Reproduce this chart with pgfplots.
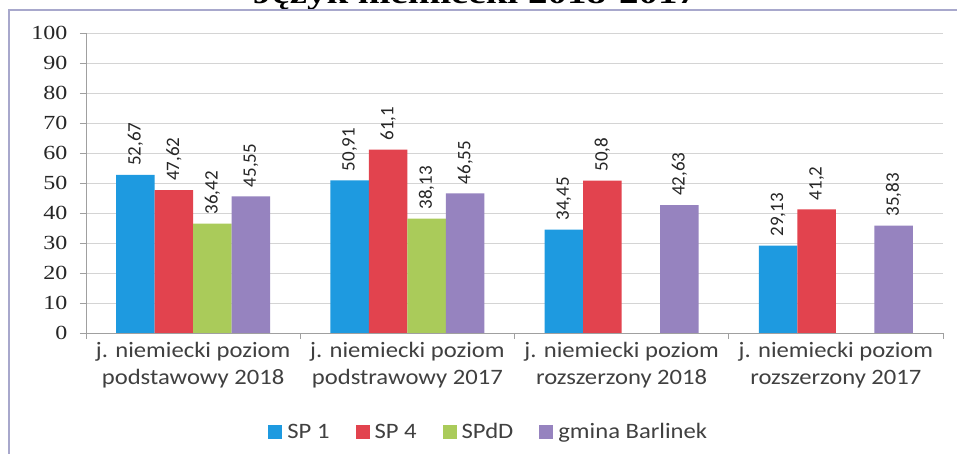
\documentclass[border=0pt]{standalone}
\usepackage{fontspec}
\usepackage{pgfplots}
\pgfplotsset{compat=1.18}
\newfontfamily\carlitoS[FakeStretch=1.12]{Carlito}
\newfontfamily\carlito{Carlito}
\newfontfamily\tickf[FakeStretch=1.2]{Liberation Serif}
\newfontfamily\titlef[FakeStretch=1.3]{Liberation Serif}
\definecolor{cSPa}{HTML}{1E9AE0}
\definecolor{cSPb}{HTML}{E2434E}
\definecolor{cSPc}{HTML}{AACB5A}
\definecolor{cGm}{HTML}{9683BF}
\definecolor{frame}{HTML}{A8A8CC}
\definecolor{gridc}{HTML}{D4D4D4}
\definecolor{axisc}{HTML}{A0A0A0}
\begin{document}
\begin{tikzpicture}
\useasboundingbox (0,0) rectangle (957pt,454pt);
\clip (0,0) rectangle (957pt,454pt);
\fill[white] (0,0) rectangle (957pt,454pt);
\node[anchor=base, font=\titlef\bfseries\fontsize{30}{30}\selectfont] at (475pt,450pt) {Język niemiecki 2018-2017};
\draw[frame, line width=1.5pt] (9pt,0) -- (9pt,444pt) -- (957pt,444pt);
\begin{axis}[
  at={(86pt,121pt)}, anchor=south west,
  scale only axis, width=857pt, height=300pt,
  ybar=0pt, bar width=38.5pt,
  xmin=-0.5, xmax=3.5, ymin=0, ymax=100,
  ytick={0,10,...,100},
  xtick={-0.5,0.5,1.5,2.5,3.5},
  xticklabels={,,,,},
  extra x ticks={0,1,2,3},
  extra x tick labels={{j. niemiecki poziom\\podstawowy 2018},{j. niemiecki poziom\\podstrawowy 2017},{j. niemiecki poziom\\rozszerzony 2018},{j. niemiecki poziom\\rozszerzony 2017}},
  extra x tick style={major tick length=0pt, tick style={draw=none}},
  xticklabel style={font=\carlitoS\fontsize{22}{27}\selectfont, align=center, text=black!75, yshift=-6pt},
  yticklabel style={font=\tickf\fontsize{20}{20}\selectfont, text=black!85, xshift=-9pt},
  /pgf/number format/assume math mode=true,
  tick align=outside,
  major tick length=6pt,
  tick style={axisc, line width=0.6pt},
  ymajorgrids, grid style={gridc, line width=0.8pt},
  axis x line*=bottom, axis y line*=left,
  axis line style={axisc, line width=0.8pt},
  nodes near coords={\pgfmathprintnumber[use comma,fixed,precision=2,assume math mode=true]{\pgfplotspointmeta}},
  every node near coord/.append style={rotate=90, anchor=west, font=\carlito\fontsize{19}{19}\selectfont, text=black!85, inner xsep=9pt, inner ysep=1pt},
  legend columns=4,
  legend style={at={(0.47,-0.33)}, anchor=center, draw=none, fill=none,
    font=\carlitoS\fontsize{22}{22}\selectfont, text=black!75,
    /tikz/every odd column/.append style={column sep=3pt},
    /tikz/every even column/.append style={column sep=24pt}},
  legend image code/.code={\fill[#1] (0pt,-7pt) rectangle (14pt,7pt);},
]
\addplot[fill=cSPa, draw=none] coordinates {(0,52.67) (1,50.91) (2,34.45) (3,29.13)};
\addplot[fill=cSPb, draw=none] coordinates {(0,47.62) (1,61.1) (2,50.8) (3,41.2)};
\addplot[fill=cSPc, draw=none] coordinates {(0,36.42) (1,38.13)};
\addplot[fill=cGm, draw=none] coordinates {(0,45.55) (1,46.55) (2,42.63) (3,35.83)};
\legend{SP 1, SP 4, SPdD, gmina Barlinek}
\end{axis}
\end{tikzpicture}
\end{document}
